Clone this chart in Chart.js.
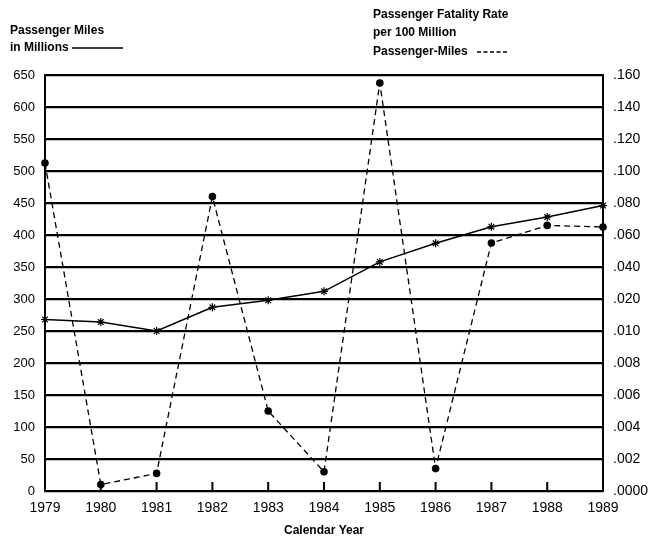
<!DOCTYPE html>
<html lang="en">
<head>
<meta charset="UTF-8">
<title>Passenger Miles and Fatality Rate</title>
<style>
  body { margin: 0; background: #fff; }
</style>
</head>
<body>
<canvas id="myChart" width="649" height="542"></canvas>

<script src="https://cdn.jsdelivr.net/npm/chart.js"></script>
<script>
  const years = ['1979', '1980', '1981', '1982', '1983', '1984', '1985', '1986', '1987', '1988', '1989'];
  const passengerMiles = [268, 264, 250, 287, 298, 312, 358, 387, 413, 428, 446];
  const fatalityRate = [0.105, 0.0004, 0.0011, 0.084, 0.005, 0.0012, 0.155, 0.0014, 0.055, 0.066, 0.065];

  // left axis ticks, and the right axis labels that sit on the same gridlines
  const milesTicks = [0, 50, 100, 150, 200, 250, 300, 350, 400, 450, 500, 550, 600, 650];
  const rateTicks = [0, 0.002, 0.004, 0.006, 0.008, 0.010, 0.020, 0.040, 0.060, 0.080, 0.100, 0.120, 0.140, 0.160];
  const rateLabels = ['.0000', '.002', '.004', '.006', '.008', '.010', '.020', '.040', '.060', '.080', '.100', '.120', '.140', '.160'];

  // the right axis is not linear: put a rate on the gridline scale
  function rateToAxis(r) {
    for (let i = 1; i < rateTicks.length; i++) {
      if (r <= rateTicks[i]) {
        const f = (r - rateTicks[i - 1]) / (rateTicks[i] - rateTicks[i - 1]);
        return milesTicks[i - 1] + f * (milesTicks[i] - milesTicks[i - 1]);
      }
    }
    return milesTicks[milesTicks.length - 1];
  }

  const headers = {
    id: 'headers',
    afterDraw(chart) {
      const c = chart.ctx;
      c.save();
      c.fillStyle = '#000';
      c.strokeStyle = '#000';
      c.font = 'bold 12px "Liberation Sans", Arial, sans-serif';
      c.textBaseline = 'middle';
      c.textAlign = 'left';
      c.fillText('Passenger Miles', 10, 31);
      c.fillText('in Millions', 10, 48);
      c.lineWidth = 1.5;
      c.beginPath(); c.moveTo(72, 48); c.lineTo(123, 48); c.stroke();

      c.fillText('Passenger Fatality Rate', 373, 15);
      c.fillText('per 100 Million', 373, 33);
      c.fillText('Passenger-Miles', 373, 52);
      c.lineWidth = 1.3;
      c.setLineDash([4, 2.5]);
      c.beginPath(); c.moveTo(477, 52); c.lineTo(509, 52); c.stroke();
      c.setLineDash([]);

      // small tick marks standing up from the bottom axis
      const x = chart.scales.x, y = chart.scales.y;
      const bottom = y.getPixelForValue(0);
      c.lineWidth = 2;
      for (let i = 1; i < years.length - 1; i++) {
        const px = x.getPixelForValue(i);
        c.beginPath(); c.moveTo(px, bottom); c.lineTo(px, bottom - 9); c.stroke();
      }
      c.restore();
    }
  };

  Chart.defaults.font.family = '"Liberation Sans", Arial, sans-serif';
  Chart.defaults.color = '#000';

  const ctx = document.getElementById('myChart');
  new Chart(ctx, {
    type: 'line',
    data: {
      labels: years,
      datasets: [{
        label: 'Passenger Miles in Millions',
        data: passengerMiles,
        yAxisID: 'y',
        borderColor: '#000',
        borderWidth: 1.5,
        pointStyle: 'star',
        pointRadius: 4,
        pointBorderWidth: 1.2,
        pointBorderColor: '#000',
        pointBackgroundColor: '#000',
        tension: 0
      }, {
        label: 'Passenger Fatality Rate per 100 Million Passenger-Miles',
        data: fatalityRate.map(rateToAxis),
        yAxisID: 'y2',
        borderColor: '#000',
        borderWidth: 1.3,
        borderDash: [6, 4],
        pointStyle: 'circle',
        pointRadius: 3.8,
        pointBorderWidth: 0,
        pointBackgroundColor: '#000',
        tension: 0
      }]
    },
    options: {
      responsive: false,
      animation: false,
      layout: { padding: { top: 75, left: 0, right: 0, bottom: 0 } },
      plugins: {
        legend: { display: false },
        tooltip: { enabled: false }
      },
      scales: {
        x: {
          type: 'category',
          offset: false,
          grid: { display: false, drawTicks: false },
          border: { display: false },
          ticks: { padding: 9, font: { size: 14 }, maxRotation: 0, autoSkip: false },
          title: {
            display: true,
            text: 'Calendar Year',
            font: { size: 12, weight: 'bold' },
            padding: { top: 10, bottom: 4 }
          },
          afterFit(s) { s.height = 51; }
        },
        y: {
          position: 'left',
          min: 0,
          max: 650,
          afterBuildTicks(s) { s.ticks = milesTicks.map(v => ({ value: v })); },
          grid: { color: '#000', lineWidth: 2.2, drawTicks: false },
          border: { display: true, color: '#000', width: 2 },
          ticks: { padding: 10, font: { size: 13 } },
          afterFit(s) { s.width = 45; }
        },
        y2: {
          position: 'right',
          min: 0,
          max: 650,
          afterBuildTicks(s) { s.ticks = milesTicks.map(v => ({ value: v })); },
          grid: { drawOnChartArea: false, drawTicks: false },
          border: { display: true, color: '#000', width: 2 },
          ticks: {
            padding: 10,
            font: { size: 14 },
            callback: function (value) {
              const i = milesTicks.indexOf(value);
              return i >= 0 ? rateLabels[i] : '';
            }
          },
          afterFit(s) { s.width = 46; }
        }
      }
    },
    plugins: [headers]
  });
</script>
</body>
</html>
